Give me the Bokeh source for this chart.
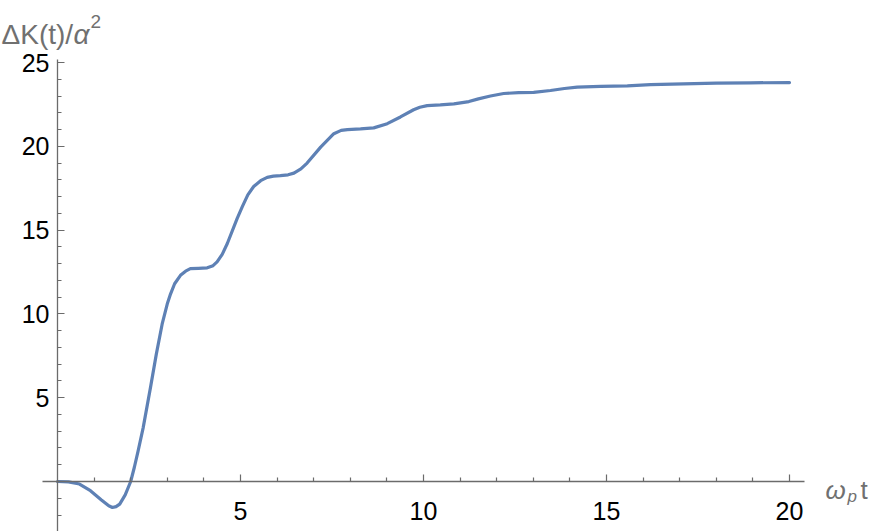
from bokeh.plotting import figure
from bokeh.models import FixedTicker, Range1d, Label
from bokeh.embed import file_html
from bokeh.resources import INLINE

# Data
t_vals = [0.0, 0.3, 0.6, 0.9, 1.2, 1.4, 1.5, 1.6, 1.7, 1.85, 2.0, 2.1, 2.2, 2.34, 2.54,
          2.7, 2.86, 3.0, 3.09, 3.2, 3.36, 3.5, 3.63, 3.85, 4.09, 4.25, 4.36, 4.5, 4.64,
          4.91, 5.05, 5.2, 5.36, 5.55, 5.73, 5.9, 6.09, 6.3, 6.46, 6.65, 6.82, 7.19, 7.55,
          7.75, 7.92, 8.28, 8.64, 9.01, 9.37, 9.73, 9.9, 10.1, 10.46, 10.83, 11.24, 11.5,
          11.83, 12.19, 12.6, 13.01, 13.47, 13.85, 14.2, 14.84, 15.57, 16.2, 17.1, 18.0,
          18.93, 20.0]
dk_vals = [0.0, -0.02, -0.15, -0.55, -1.1, -1.45, -1.55, -1.5, -1.35, -0.8, 0.0, 0.85,
           1.8, 3.2, 5.6, 7.6, 9.4, 10.6, 11.2, 11.8, 12.3, 12.55, 12.7, 12.72, 12.75,
           12.88, 13.1, 13.55, 14.2, 15.7, 16.4, 17.1, 17.6, 17.95, 18.15, 18.22, 18.25,
           18.3, 18.4, 18.65, 19.0, 19.95, 20.75, 20.95, 21.0, 21.04, 21.1, 21.35, 21.75,
           22.18, 22.33, 22.43, 22.47, 22.53, 22.67, 22.83, 23.0, 23.15, 23.2, 23.22,
           23.33, 23.45, 23.53, 23.57, 23.6, 23.68, 23.73, 23.77, 23.79, 23.8]

x_major = [5, 10, 15, 20]
x_minor = [1, 2, 3, 4, 6, 7, 8, 9, 11, 12, 13, 14, 16, 17, 18, 19]
y_major = [5, 10, 15, 20, 25]
y_minor = [-2, -1, 1, 2, 3, 4, 6, 7, 8, 9, 11, 12, 13, 14, 16, 17, 18, 19, 21, 22, 23, 24]

AX = "#6b6b6b"
LBL = "#707070"
FONT = "Liberation Sans"

W, H = 872, 531
X0PX, XS = 57.0, 36.6      # pixel of x=0, pixels per unit
Y0PX, YS = 481.0, 16.76    # pixel of y=0, pixels per unit


def xd(px):
    return (px - X0PX) / XS


def yd(py):
    return (Y0PX - py) / YS


p = figure(frame_width=W, frame_height=H, output_backend="svg", toolbar_location=None,
           x_range=Range1d(xd(0), xd(W)), y_range=Range1d(yd(H), yd(0)),
           min_border_left=0, min_border_right=0, min_border_top=0, min_border_bottom=0)
p.outline_line_color = None
p.grid.visible = False
p.background_fill_color = "white"
p.border_fill_color = "white"

p.line(t_vals, dk_vals, line_color="#5E81B5", line_width=3.2, line_join="round",
       line_cap="round")

for ax, maj, mnr in ((p.xaxis[0], x_major, x_minor), (p.yaxis[0], y_major, y_minor)):
    ax.fixed_location = 0
    ax.ticker = FixedTicker(ticks=maj, minor_ticks=mnr)
    ax.axis_line_color = AX
    ax.axis_line_width = 1.3
    ax.major_tick_line_color = AX
    ax.minor_tick_line_color = AX
    ax.major_tick_line_width = 1.2
    ax.minor_tick_line_width = 1.2
    ax.major_tick_in = 7
    ax.major_tick_out = 0
    ax.minor_tick_in = 4
    ax.minor_tick_out = 0
    ax.major_label_text_font = FONT
    ax.major_label_text_font_size = "25px"
    ax.major_label_text_color = "black"

p.xaxis[0].bounds = (xd(42), xd(804))
p.yaxis[0].bounds = (yd(H), yd(59))
p.xaxis[0].major_label_standoff = 20
p.yaxis[0].major_label_standoff = 8

labels = [
    ("ΔK(t)/", 1, 34, "28px", "normal"),
    ("α", 73, 34, "28px", "italic"),
    ("2", 90, 21, "19px", "normal"),
    ("ω", 825, 489, "26px", "italic"),
    ("p", 847, 496, "17px", "italic"),
    ("t", 860, 489, "26px", "normal"),
]
for txt, px, py, fs, st in labels:
    p.add_layout(Label(x=xd(px), y=yd(py), text=txt, text_font=FONT, text_font_size=fs,
                       text_font_style=st, text_color=LBL, text_baseline="alphabetic",
                       text_align="left"))

open("out.html", "w").write(file_html(p, INLINE))
